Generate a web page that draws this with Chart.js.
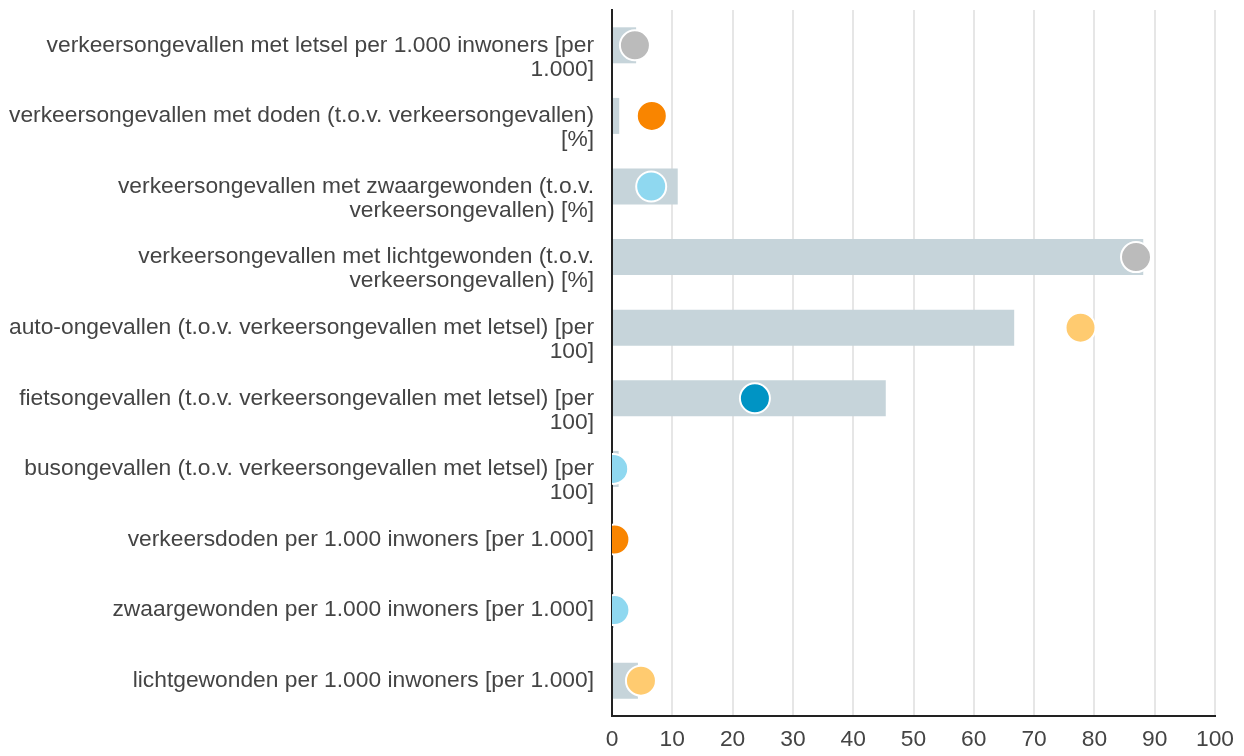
<!DOCTYPE html>
<html>
<head>
<meta charset="utf-8">
<script src="https://cdn.jsdelivr.net/npm/chart.js@4"></script>
<style>
  html, body { margin: 0; padding: 0; background: #fff; }
  #wrap { width: 1244px; height: 756px; }
</style>
</head>
<body>
<div id="wrap"><canvas id="chart"></canvas></div>
<script>
var categories = [
    ['verkeersongevallen met letsel per 1.000 inwoners [per', '1.000]'],
    ['verkeersongevallen met doden (t.o.v. verkeersongevallen)', '[%]'],
    ['verkeersongevallen met zwaargewonden (t.o.v.', 'verkeersongevallen) [%]'],
    ['verkeersongevallen met lichtgewonden (t.o.v.', 'verkeersongevallen) [%]'],
    ['auto-ongevallen (t.o.v. verkeersongevallen met letsel) [per', '100]'],
    ['fietsongevallen (t.o.v. verkeersongevallen met letsel) [per', '100]'],
    ['busongevallen (t.o.v. verkeersongevallen met letsel) [per', '100]'],
    'verkeersdoden per 1.000 inwoners [per 1.000]',
    'zwaargewonden per 1.000 inwoners [per 1.000]',
    'lichtgewonden per 1.000 inwoners [per 1.000]'
];
var barValues = [4.0, 1.2, 10.9, 88.1, 66.7, 45.4, 1.1, 0.2, 0.3, 4.3];
var pointValues = [3.8, 6.6, 6.5, 86.9, 77.7, 23.7, 0.2, 0.4, 0.4, 4.8];
var pointColors = ['#bbbbbb', '#f98500', '#8fd8f0', '#bbbbbb', '#ffcb70',
                   '#0094c4', '#8fd8f0', '#f98500', '#8fd8f0', '#ffcb70'];
var xTicks = [0, 10, 20, 30, 40, 50, 60, 70, 80, 90, 100];

var fontFamily = 'Liberation Sans, Arial, sans-serif';

// fixed plot box, ignore label overhang
function noPad(axis) {
    axis.paddingTop = 0;
    axis.paddingBottom = 0;
    axis.paddingLeft = 0;
    axis.paddingRight = 0;
}

var ctx = document.getElementById('chart');
var chart = new Chart(ctx, {
    type: 'bar',
    data: {
        labels: categories,
        datasets: [{
            type: 'line',
            indexAxis: 'y',
            data: pointValues,
            showLine: false,
            pointRadius: 15,
            pointHoverRadius: 15,
            pointBackgroundColor: pointColors,
            pointBorderColor: '#ffffff',
            pointBorderWidth: 2
        }, {
            data: barValues,
            backgroundColor: '#c6d4da',
            categoryPercentage: 1,
            barPercentage: 0.51
        }]
    },
    options: {
        indexAxis: 'y',
        responsive: true,
        maintainAspectRatio: false,
        animation: false,
        events: [],
        layout: {
            autoPadding: false,
            padding: { top: 10, right: 29, left: 0, bottom: 0 }
        },
        plugins: {
            legend: { display: false },
            tooltip: { enabled: false }
        },
        scales: {
            x: {
                min: 0,
                max: 100,
                afterBuildTicks: function (axis) {
                    axis.ticks = xTicks.map(function (v) { return { value: v }; });
                },
                afterFit: function (axis) {
                    axis.height = 40;
                    noPad(axis);
                },
                grid: { color: '#e6e6e6', lineWidth: 2, drawTicks: false },
                border: { color: '#222', width: 2 },
                ticks: {
                    color: '#444',
                    padding: 12,
                    maxRotation: 0,
                    font: { family: fontFamily, size: 22.8, lineHeight: 1.05 }
                }
            },
            y: {
                grid: { display: false, drawTicks: false },
                border: { color: '#222', width: 2 },
                afterFit: function (axis) {
                    axis.width = 612;
                    noPad(axis);
                },
                ticks: {
                    color: '#444',
                    padding: 18,
                    autoSkip: false,
                    font: { family: fontFamily, size: 22.8, lineHeight: 1.05 },
                    callback: function (value) {
                        var lbl = this.getLabelForValue(value);
                        // first line sits on the bar centre, extra lines go below
                        if (Array.isArray(lbl)) return [''].concat(lbl);
                        return lbl;
                    }
                }
            }
        }
    }
});
</script>
</body>
</html>
